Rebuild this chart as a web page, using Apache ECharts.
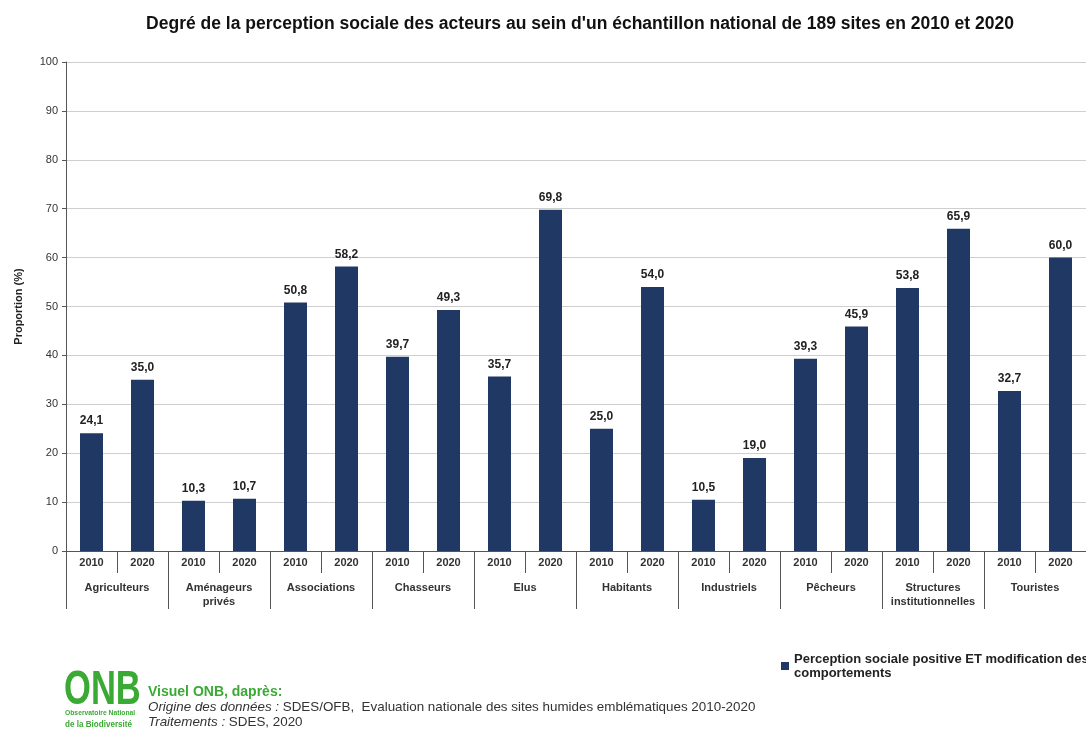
<!DOCTYPE html>
<html><head><meta charset="utf-8">
<script src="https://cdn.jsdelivr.net/npm/echarts@6/dist/echarts.min.js"></script>
<style>html,body{margin:0;padding:0;background:#fff}#c{width:1086px;height:731px}</style>
</head><body><div id="c"></div>
<script>
const groups = ['Agriculteurs','Aménageurs\nprivés','Associations','Chasseurs','Elus','Habitants','Industriels','Pêcheurs','Structures\ninstitutionnelles','Touristes'];
const years = ['2010','2020'];
const values2010 = [24.1,10.3,50.8,39.7,35.7,25.0,10.5,39.3,53.8,32.7];
const values2020 = [35.0,10.7,58.2,49.3,69.8,54.0,19.0,45.9,65.9,60.0];
const seriesName = 'Perception sociale positive ET modification des comportements';
const yTicks = {min:0,max:100,interval:10};

const yearCats = [];
const barValues = [];
groups.forEach((g,i)=>{ yearCats.push(years[0]); barValues.push(values2010[i]); yearCats.push(years[1]); barValues.push(values2020[i]); });

const F = '"Liberation Sans", Arial, sans-serif';
const chart = echarts.init(document.getElementById('c'));
chart.setOption({
  animation:false,
  title:{text:'Degré de la perception sociale des acteurs au sein d\'un échantillon national de 189 sites en 2010 et 2020',left:575,textAlign:'center',top:10,textStyle:{fontFamily:F,fontSize:17.5,fontWeight:'bold',color:'#111'}},
  grid:{left:66,top:62,bottom:180,right:-10,containLabel:false},
  legend:{show:true,left:776,top:647,itemWidth:8,itemHeight:8,itemGap:4,icon:'rect',
    formatter:()=> 'Perception sociale positive ET modification des\ncomportements',
    textStyle:{fontFamily:F,fontSize:13,fontWeight:'bold',color:'#222',lineHeight:14},data:[seriesName]},
  xAxis:[
    {type:'category',data:yearCats,position:'bottom',
      axisLine:{lineStyle:{color:'#555',width:1}},
      axisTick:{show:true,interval:0,length:22,lineStyle:{color:'#555'}},
      axisLabel:{interval:0,margin:6,fontFamily:F,fontSize:11,fontWeight:'bold',color:'#333'}},
    {type:'category',data:groups,position:'bottom',
      axisLine:{show:false},
      axisTick:{show:true,interval:0,length:58,lineStyle:{color:'#555'}},
      axisLabel:{interval:0,margin:30,fontFamily:F,fontSize:11,fontWeight:'bold',color:'#333',lineHeight:14}}
  ],
  yAxis:{type:'value',min:yTicks.min,max:yTicks.max,interval:yTicks.interval,
    name:'Proportion (%)',nameLocation:'middle',nameGap:42,
    nameTextStyle:{fontFamily:F,fontSize:11,fontWeight:'bold',color:'#222'},
    axisLine:{show:true,lineStyle:{color:'#555'}},
    axisTick:{show:true,length:4,lineStyle:{color:'#555'}},
    axisLabel:{fontFamily:F,fontSize:11,color:'#333',margin:8},
    splitLine:{lineStyle:{color:'#cfcfcf'}}},
  series:[{name:seriesName,type:'bar',xAxisIndex:0,data:barValues,barWidth:23,
    itemStyle:{color:'#1f3864'},
    label:{show:true,position:'top',distance:6,fontFamily:F,fontSize:12,fontWeight:'bold',color:'#222',
      formatter:p=>p.value.toFixed(1).replace('.',',')}}],
  graphic:[
    {type:'text',x:64,y:667,scaleX:0.72,scaleY:1,style:{text:'ONB',font:'bold 48px "Liberation Sans", Arial',fill:'#3aaa35'}},
    {type:'text',x:65,y:709,scaleX:0.9,style:{text:'Observatoire National',font:'bold 7.5px "Liberation Sans", Arial',fill:'#3aaa35'}},
    {type:'text',x:65,y:720,scaleX:0.9,style:{text:'de la Biodiversité',font:'bold 9px "Liberation Sans", Arial',fill:'#3aaa35'}},
    {type:'text',left:148,top:685,style:{text:'Visuel ONB, daprès:',font:'bold 14px "Liberation Sans", Arial',fill:'#3aaa35'}},
    {type:'text',left:148,top:701,style:{text:'{i|Origine des données :} SDES/OFB,  Evaluation nationale des sites humides emblématiques 2010-2020',
      rich:{i:{fontStyle:'italic',fontSize:13.4,fontFamily:F,fill:'#333'}},font:'13.4px "Liberation Sans", Arial',fill:'#333'}},
    {type:'text',left:148,top:716,style:{text:'{i|Traitements :} SDES, 2020',
      rich:{i:{fontStyle:'italic',fontSize:13.4,fontFamily:F,fill:'#333'}},font:'13.4px "Liberation Sans", Arial',fill:'#333'}}
  ]
});
</script></body></html>
